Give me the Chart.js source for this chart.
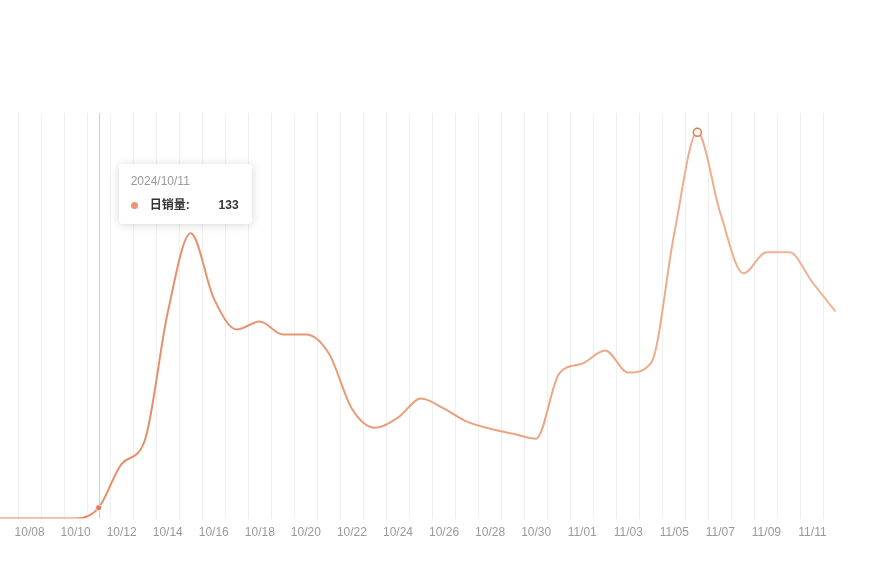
<!DOCTYPE html>
<html>
<head>
<meta charset="utf-8">
<script src="https://cdn.jsdelivr.net/npm/chart.js@4.4.1/dist/chart.umd.min.js"></script>
<style>
  html, body { margin: 0; padding: 0; background: #fff; }
  body { width: 869px; height: 564px; overflow: hidden; position: relative;
         font-family: "Liberation Sans", "Noto Sans CJK SC", sans-serif; }
  #wrap { position: absolute; left: -28px; top: 0; width: 893px; height: 564px; }
  #tip { position: absolute; top: 164px; width: 133px; height: 60px; box-sizing: border-box;
         padding: 10px 13px 0 12px; background: #fff; border-radius: 4px;
         box-shadow: 0 1px 10px rgba(0,0,0,0.16); font-size: 12px; line-height: 14px; }
  #tip .title { color: #999; }
  #tip .row { margin-top: 10px; display: flex; align-items: center; color: #333; }
  #tip .dot { width: 7px; height: 7px; border-radius: 50%; background: #ea9574; margin-right: 12px; }
  #tip .name { font-weight: bold; flex: 1; }
  #tip .val { font-weight: bold; }
</style>
</head>
<body>
<div id="wrap"><canvas id="salesChart"></canvas></div>
<div id="tip"></div>
<script>
const year = '2024';
const dates = ['10/06', '10/07', '10/08', '10/09', '10/10', '10/11', '10/12', '10/13', '10/14', '10/15',
               '10/16', '10/17', '10/18', '10/19', '10/20', '10/21', '10/22', '10/23', '10/24', '10/25',
               '10/26', '10/27', '10/28', '10/29', '10/30', '10/31', '11/01', '11/02', '11/03', '11/04',
               '11/05', '11/06', '11/07', '11/08', '11/09', '11/10', '11/11', '11/12'];
const sales = [0, 0, 0, 0, 0, 133, 676, 960, 2541, 3517,
               2714, 2331, 2430, 2270, 2270, 2035, 1355, 1121, 1244, 1479,
               1355, 1195, 1108, 1046, 985, 1788, 1911, 2072, 1800, 1924,
               3517, 4762, 3765, 3023, 3283, 3283, 2912, 2554];
const seriesName = '日销量';
const hoverDate = '10/11';

const hoverIdx = dates.indexOf(hoverDate);
const peakIdx = sales.indexOf(Math.max(...sales));

function lineGradient(ctx) {
    const area = ctx.chart.chartArea;
    if (!area) return '#e8936f';
    const g = ctx.chart.ctx.createLinearGradient(area.left, 0, area.right, 0);
    g.addColorStop(0, '#e3865f');
    g.addColorStop(1, '#f0b597');
    return g;
}

const hoverLine = {
    id: 'hoverLine',
    beforeDatasetsDraw(chart) {
        const pt = chart.getDatasetMeta(0).data[hoverIdx];
        const { top, bottom } = chart.chartArea;
        const c = chart.ctx;
        c.save();
        c.strokeStyle = '#cfcfcf';
        c.lineWidth = 1;
        c.beginPath();
        c.moveTo(Math.round(pt.x) + 0.5, top);
        c.lineTo(Math.round(pt.x) + 0.5, bottom);
        c.stroke();
        c.restore();
    }
};

const chart = new Chart(document.getElementById('salesChart'), {
    type: 'line',
    data: {
        labels: dates,
        datasets: [{
            label: seriesName,
            data: sales,
            borderColor: lineGradient,
            borderWidth: 2,
            cubicInterpolationMode: 'monotone',
            pointRadius: c => c.dataIndex === peakIdx ? 4 : (c.dataIndex === hoverIdx ? 3 : 0),
            pointBackgroundColor: c => c.dataIndex === peakIdx ? '#fff' : '#e47e58',
            pointBorderColor: c => c.dataIndex === peakIdx ? '#e2764f' : 'rgba(255,255,255,0.7)',
            pointBorderWidth: c => c.dataIndex === peakIdx ? 1.5 : 1,
            pointHoverRadius: 0
        }]
    },
    options: {
        responsive: true,
        maintainAspectRatio: false,
        animation: false,
        events: [],
        layout: { padding: { top: 113, bottom: 17, left: 0, right: 18 } },
        plugins: { legend: { display: false }, tooltip: { enabled: false } },
        scales: {
            x: {
                offset: true,
                border: { display: false },
                grid: {
                    offset: true,
                    drawTicks: false,
                    color: c => c.type === 'tick' ? '#efefef' : 'transparent'
                },
                ticks: {
                    autoSkip: false,
                    maxRotation: 0,
                    minRotation: 0,
                    padding: 7,
                    color: '#999',
                    font: { size: 12, family: '"Liberation Sans", sans-serif' },
                    callback: (v, i) => (i > 0 && i % 2 === 0) ? dates[i] : ''
                }
            },
            y: { display: false, min: 0, max: 5000 }
        }
    },
    plugins: [hoverLine]
});

// static tooltip for the highlighted day
const pt = chart.getDatasetMeta(0).data[hoverIdx];
const tip = document.getElementById('tip');
tip.innerHTML = `
    <div class="title">${year}/${hoverDate}</div>
    <div class="row"><span class="dot"></span><span class="name">${seriesName}:</span><span class="val">${sales[hoverIdx]}</span></div>
`;
tip.style.left = (pt.x - 28 + 20) + 'px';
</script>
</body>
</html>
